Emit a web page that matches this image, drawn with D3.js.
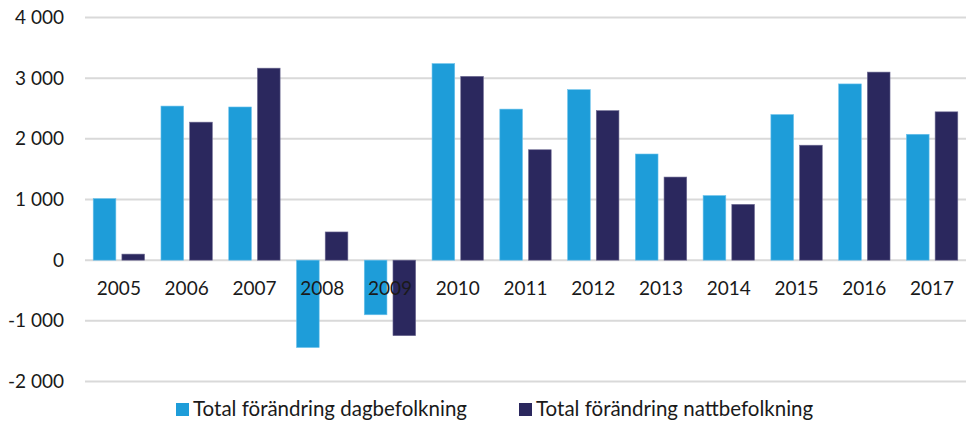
<!DOCTYPE html>
<html>
<head>
<meta charset="utf-8">
<script src="https://cdn.jsdelivr.net/npm/d3@7"></script>
<style>
  body { margin: 0; background: #fff; }
  svg text { font-family: "Source Sans Pro", Lato, "Open Sans", sans-serif; fill: #1a1a1a; }
</style>
</head>
<body>
<svg id="chart" width="966" height="421"></svg>
<script>
// data
const years = ["2005","2006","2007","2008","2009","2010","2011","2012","2013","2014","2015","2016","2017"];
const dag   = [1015, 2540, 2525, -1440, -900, 3240, 2490, 2810, 1750, 1065, 2400, 2905, 2075];
const natt  = [100, 2275, 3165, 465, -1245, 3030, 1820, 2465, 1370, 920, 1895, 3100, 2445];
const seriesNames = ["Total förändring dagbefolkning", "Total förändring nattbefolkning"];
const colours = ["#1e9dd9", "#2b285e"];
const yTicks = [-2000, -1000, 0, 1000, 2000, 3000, 4000];

const svg = d3.select("#chart");

const y = d3.scaleLinear().domain([-2000, 4000]).range([381.5, 17.5]);
const x0 = d3.scaleBand().domain(years).range([85, 966]);
const x1 = d3.scaleBand().domain([0, 1]).range([8.2, x0.bandwidth() - 8.2]).paddingInner(0.21);

// swedish style: space as thousands separator, plain hyphen for minus
const fmt = v => d3.format(",")(v).replace(/,/g, " ").replace("\u2212", "-");

// gridlines
svg.append("g")
  .selectAll("line")
  .data(yTicks)
  .join("line")
    .attr("x1", 85).attr("x2", 966)
    .attr("y1", d => y(d)).attr("y2", d => y(d))
    .attr("stroke", "#d9d9d9")
    .attr("stroke-width", 2);

// y labels
svg.append("g")
  .selectAll("text")
  .data(yTicks)
  .join("text")
    .attr("x", 64)
    .attr("y", d => y(d))
    .attr("dy", "0.35em")
    .attr("text-anchor", "end")
    .attr("font-size", 19)
    .text(fmt);

// bars
const rows = years.map((yr, i) => ({ year: yr, vals: [dag[i], natt[i]] }));
const groups = svg.append("g")
  .selectAll("g")
  .data(rows)
  .join("g")
    .attr("transform", d => `translate(${x0(d.year)},0)`);

groups.selectAll("rect")
  .data(d => d.vals.map((v, k) => ({ k, v })))
  .join("rect")
    .attr("x", d => x1(d.k))
    .attr("width", x1.bandwidth())
    .attr("y", d => y(Math.max(0, d.v)))
    .attr("height", d => Math.abs(y(d.v) - y(0)))
    .attr("fill", d => colours[d.k])
    .attr("stroke", d => d.k === 0 ? "#6cc2ec" : "#6f6c94")
    .attr("stroke-width", 0.6);

// year labels (drawn over bars)
svg.append("g")
  .selectAll("text")
  .data(years)
  .join("text")
    .attr("x", d => x0(d) + x0.bandwidth() / 2)
    .attr("y", 295)
    .attr("text-anchor", "middle")
    .attr("font-size", 19)
    .text(d => d);

// legend
const legendX = [176, 519];
const legend = svg.append("g")
  .selectAll("g")
  .data(seriesNames)
  .join("g")
    .attr("transform", (d, i) => `translate(${legendX[i]},403)`);
legend.append("rect")
  .attr("width", 13).attr("height", 13)
  .attr("fill", (d, i) => colours[i]);
legend.append("text")
  .attr("x", 17)
  .attr("y", 13)
  .attr("font-size", 20.5)
  .text(d => d);
</script>
</body>
</html>
